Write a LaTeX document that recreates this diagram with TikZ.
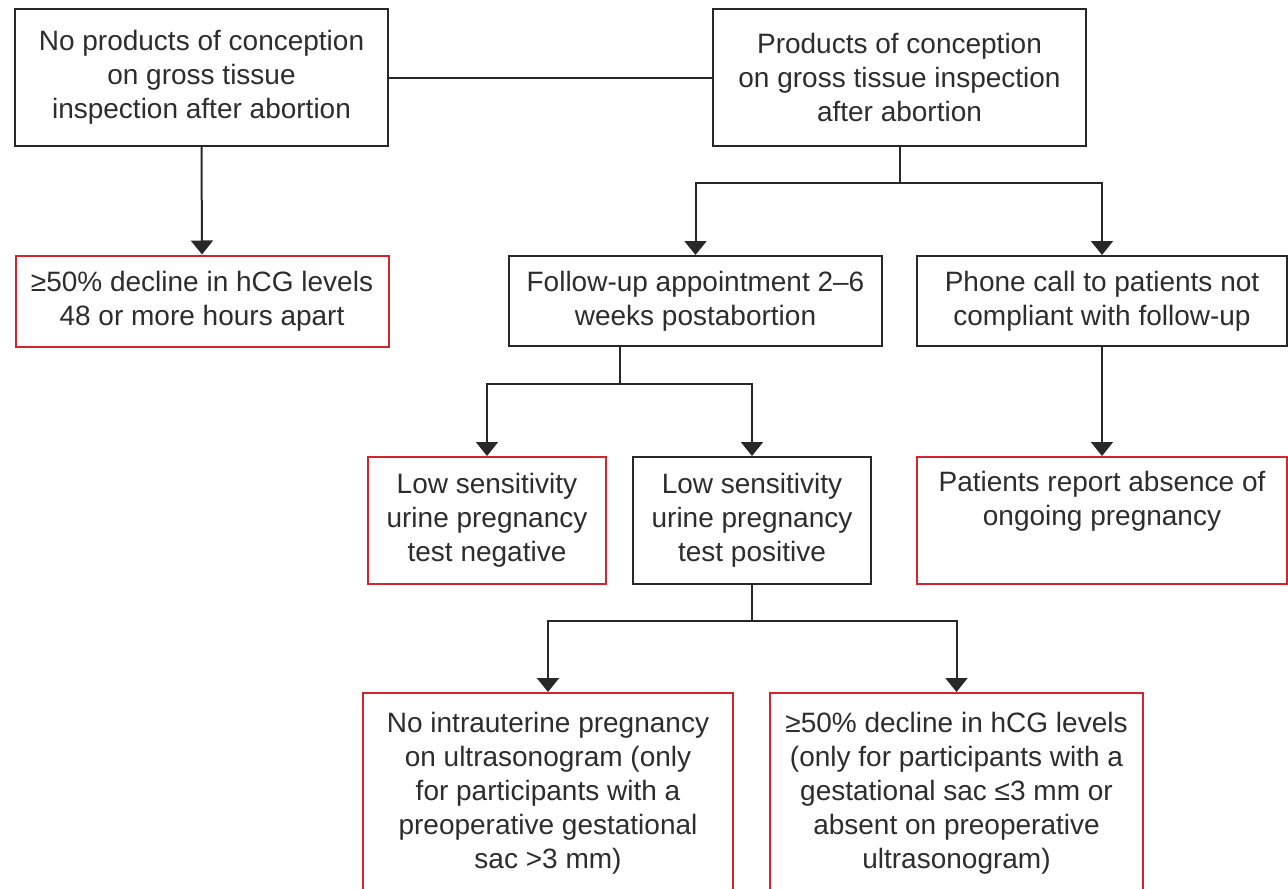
\documentclass[tikz,border=0pt]{standalone}
\usepackage{fontspec}
\setmainfont{Liberation Sans}
\usetikzlibrary{arrows.meta}
\definecolor{ink}{RGB}{40,40,40}
\definecolor{txt}{RGB}{45,45,45}
\definecolor{redb}{RGB}{214,36,46}
\begin{document}
\begin{tikzpicture}[x=1pt,y=-1pt,
  box/.style={draw=ink, line width=2pt, align=center, inner sep=0pt,
    font=\fontsize{28}{34}\selectfont, text=txt},
  redbox/.style={box, draw=redb},
  conn/.style={draw=ink, line width=2pt},
  arr/.style={conn, -{Triangle[width=22pt,length=14pt]}}]
\useasboundingbox (0,0) rectangle (1288,889);
\fill[white] (0,0) rectangle (1288,889);

\node[box, minimum width=373pt, minimum height=137pt] (A) at (201.5,77.5)
  {No products of conception\\on gross tissue\\inspection after abortion};
\node[box, minimum width=373pt, minimum height=137pt] (B) at (899.5,77.5)
  {Products of conception\\on gross tissue inspection\\after abortion};
\node[redbox, minimum width=373pt, minimum height=91pt] (C) at (202,301)
  {≥50\% decline in hCG levels\\48 or more hours apart};
\node[box, minimum width=373pt, minimum height=90pt] (D) at (695.5,301)
  {Follow-up appointment 2–6\\weeks postabortion};
\node[box, minimum width=370pt, minimum height=90pt] (E) at (1102,301)
  {Phone call to patients not\\compliant with follow-up};
\node[redbox, minimum width=238pt, minimum height=127pt] (F) at (487,520.5)
  {Low sensitivity\\urine pregnancy\\test negative};
\node[box, minimum width=238pt, minimum height=127pt] (G) at (752,520.5)
  {Low sensitivity\\urine pregnancy\\test positive};
\node[redbox, minimum width=370pt, minimum height=127pt] (H) at (1102,520.5)
  {Patients report absence of\\ongoing pregnancy\\\strut};
\node[redbox, minimum width=370pt, minimum height=200pt] (I) at (548,793)
  {No intrauterine pregnancy\\on ultrasonogram (only\\for participants with a\\preoperative gestational\\sac >3 mm)};
\node[redbox, minimum width=373pt, minimum height=200pt] (J) at (956.5,793)
  {≥50\% decline in hCG levels\\(only for participants with a\\gestational sac ≤3 mm or\\absent on preoperative\\ultrasonogram)};

\draw[conn] (A.east) -- (B.west);
\draw[arr] (A.south) -- (C.north);

\coordinate (bm) at (899.5,182.5);
\draw[conn] (B.south) -- (bm);
\draw[arr] (bm) -| (D.north);
\draw[arr] (bm) -| (E.north);

\coordinate (dm) at (619.5,383.5);
\draw[conn] (dm |- D.south) -- (dm);
\draw[arr] (dm) -| (F.north);
\draw[arr] (dm) -| (G.north);

\draw[arr] (E.south) -- (H.north);

\coordinate (gm) at (752,620.5);
\draw[conn] (G.south) -- (gm);
\draw[arr] (gm) -| (I.north);
\draw[arr] (gm) -| (J.north);
\end{tikzpicture}
\end{document}
